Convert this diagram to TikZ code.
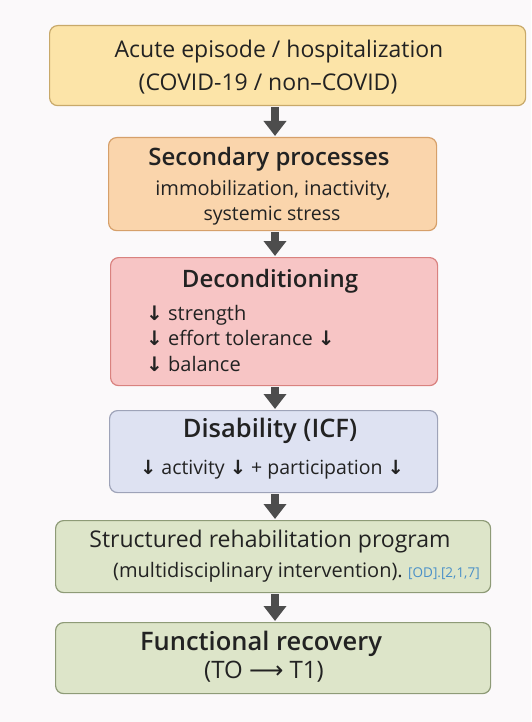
\documentclass[tikz,border=0pt]{standalone}
\usepackage{fontspec}
\setmainfont{Open Sans}[BoldFont={Open Sans Semibold}]
\newfontfamily\symf{DejaVu Sans}
\usetikzlibrary{arrows.meta}
\definecolor{bg}{HTML}{FBF9FA}
\definecolor{yelF}{HTML}{FCE4A8}
\definecolor{yelD}{HTML}{C8A96A}
\definecolor{oraF}{HTML}{FAD5AC}
\definecolor{oraD}{HTML}{D6A06A}
\definecolor{pinF}{HTML}{F7C5C5}
\definecolor{pinD}{HTML}{D9827F}
\definecolor{bluF}{HTML}{DEE2F2}
\definecolor{bluD}{HTML}{9EA3B8}
\definecolor{grnF}{HTML}{DDE5C9}
\definecolor{grnD}{HTML}{8E9B77}
\definecolor{arr}{HTML}{4D4D4D}
\definecolor{txt}{HTML}{222222}
\definecolor{cite}{HTML}{4A90C8}
\newcommand{\dn}{{\symf\bfseries\char"2193}}
\begin{document}
\begin{tikzpicture}[x=1pt,y=-1pt,
  box/.style={draw, rounded corners=8pt, line width=1.2pt, inner sep=0pt, anchor=north west},
  lbl/.style={inner sep=0pt, anchor=base, text=txt},
  lblw/.style={inner sep=0pt, anchor=base west, text=txt},
  big/.style={font=\fontsize{23}{26}\selectfont},
  ttl/.style={font=\fontsize{24}{27}\selectfont\bfseries},
  body/.style={font=\fontsize{20}{23}\selectfont},
  fat/.style={draw=arr, line width=8pt, -{Triangle[width=22pt,length=15pt]}, color=arr}
]
\useasboundingbox[fill=bg] (0,0) rectangle (531,722);
% boxes
\node[box, fill=yelF, draw=yelD, minimum width=476pt, minimum height=80pt] (b1) at (49,25) {};
\node[box, fill=oraF, draw=oraD, minimum width=328pt, minimum height=93pt] (b2) at (108,137) {};
\node[box, fill=pinF, draw=pinD, minimum width=327pt, minimum height=128pt] (b3) at (110,257) {};
\node[box, fill=bluF, draw=bluD, minimum width=328pt, minimum height=82pt] (b4) at (109,410) {};
\node[box, fill=grnF, draw=grnD, minimum width=435pt, minimum height=72pt] (b5) at (55,520) {};
\node[box, fill=grnF, draw=grnD, minimum width=435pt, minimum height=71pt] (b6) at (55,622) {};
% texts
\node[lbl, big] (t1a) at (279,58) {Acute episode / hospitalization};
\node[lbl, big] (t1b) at (268,91) {(COVID-19 / non–COVID)};
\node[lbl, ttl, font=\fontsize{24}{26}\selectfont\bfseries] (t2a) at (269,166) {Secondary processes};
\node[lbl, body] (t2b) at (273,196) {immobilization, inactivity,};
\node[lbl, body, font=\fontsize{19.5}{22}\selectfont] (t2c) at (272,220) {systemic stress};
\node[lbl, ttl] (t3a) at (270,287) {Deconditioning};
\node[lblw, body] (t3b) at (146,320) {\dn\ strength};
\node[lblw, body] (t3c) at (146,345) {\dn\ effort tolerance \dn};
\node[lblw, body] (t3d) at (146,371) {\dn\ balance};
\node[lbl, ttl, font=\fontsize{25.5}{28}\selectfont\bfseries] (t4a) at (270,437) {Disability (ICF)};
\node[lbl, body, font=\fontsize{19.5}{22}\selectfont] (t4b) at (272,474) {\dn\ activity \dn\ + participation \dn};
\node[lbl, big] (t5a) at (270,547) {Structured rehabilitation program};
\node[inner sep=0pt, anchor=base east, text=txt, body] (t5b) at (403,577) {(multidisciplinary intervention).};
\node[inner sep=0pt, anchor=base west, text=cite, font=\fontsize{13.5}{15}\selectfont] (t5c) at (408,577) {[OD].[2,1,7]};
\node[lbl, ttl, font=\fontsize{25.5}{28}\selectfont\bfseries] (t6a) at (261,650) {Functional recovery};
\node[lbl, font=\fontsize{24}{27}\selectfont, text=txt] (t6b) at (264,678) {(TO {\symf\char"27F6} T1)};
% arrows
\coordinate (ax) at (275,0);
\draw[fat] (b1.south -| ax) ++(0,1) -- ([yshift=1pt]b2.north -| ax);
\draw[fat] (b2.south -| ax) ++(0,1) -- ([yshift=1pt]b3.north -| ax);
\draw[fat] (b3.south -| ax) ++(0,1) -- ([yshift=1pt]b4.north -| ax);
\draw[fat] (b4.south -| ax) ++(0,1) -- ([yshift=1pt]b5.north -| ax);
\draw[fat] (b5.south -| ax) ++(0,1) -- ([yshift=1pt]b6.north -| ax);
\end{tikzpicture}
\end{document}
